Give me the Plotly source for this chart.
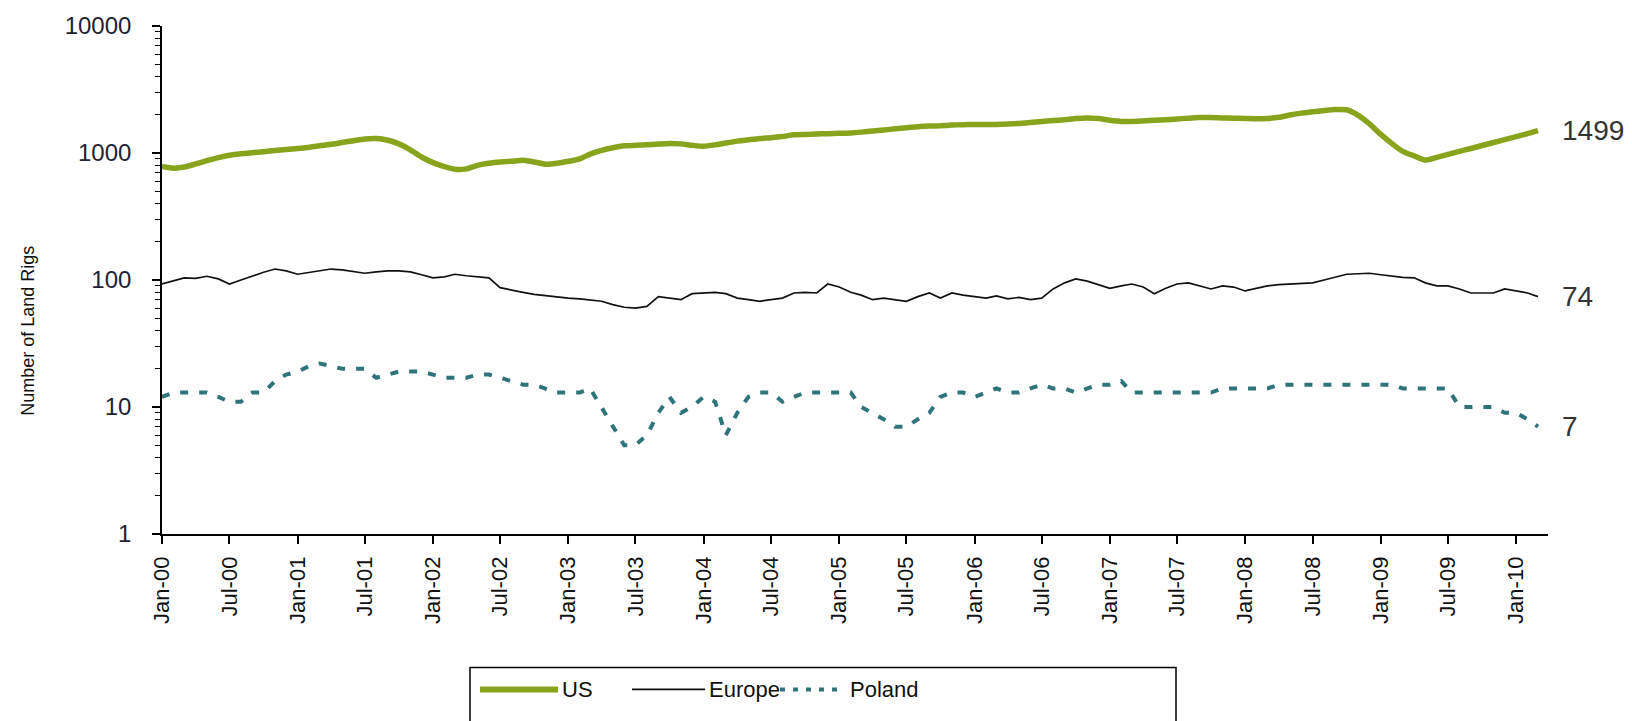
import math
import pandas as pd
import plotly.graph_objects as go

# Monthly land rig counts, Jan-2000 .. Mar-2010
months = pd.date_range("2000-01-01", "2010-03-01", freq="MS")

us_rigs = [
    784, 760, 775, 820, 870, 920, 960, 985, 1005, 1025, 1045, 1065,      # 2000
    1085, 1110, 1140, 1170, 1210, 1250, 1290, 1300, 1260, 1180, 1060, 930,  # 2001
    840, 780, 745, 750, 800, 830, 850, 860, 875, 850, 815, 830,          # 2002
    860, 900, 980, 1050, 1100, 1140, 1150, 1160, 1175, 1190, 1180, 1150,  # 2003
    1130, 1160, 1200, 1240, 1270, 1300, 1320, 1350, 1390, 1400, 1410, 1420,  # 2004
    1430, 1440, 1460, 1490, 1520, 1550, 1580, 1610, 1630, 1640, 1660, 1670,  # 2005
    1680, 1680, 1680, 1690, 1710, 1740, 1770, 1800, 1830, 1870, 1890, 1870,  # 2006
    1810, 1770, 1770, 1790, 1810, 1830, 1850, 1880, 1900, 1900, 1890, 1880,  # 2007
    1870, 1860, 1870, 1910, 1990, 2060, 2110, 2160, 2200, 2190, 1980, 1700,  # 2008
    1400, 1180, 1030, 950, 880, 925, 975, 1030, 1085, 1145, 1210, 1275,   # 2009
    1345, 1420, 1499,                                                    # 2010
]

europe_rigs = [
    93, 98, 104, 103, 107, 102, 93, 100, 108, 115, 122, 118,
    111, 115, 118, 122, 120, 117, 113, 116, 118, 118, 116, 110,
    104, 106, 111, 108, 106, 104, 87, 84, 80, 77, 75, 74,
    72, 71, 70, 68, 64, 61, 60, 62, 74, 72, 70, 78,
    79, 80, 78, 72, 70, 68, 70, 72, 79, 80, 79, 93,
    88, 80, 76, 70, 72, 70, 68, 74, 79, 72, 79, 76,
    74, 72, 75, 71, 73, 70, 72, 85, 95, 102, 98, 92,
    86, 90, 93, 88, 78, 86, 93, 95, 90, 85, 90, 88,
    82, 86, 90, 92, 93, 93, 95, 100, 106, 111, 112, 113,
    110, 107, 105, 104, 95, 90, 90, 85, 79, 79, 79, 85,
    82, 79, 74,
]

poland_rigs = [
    12, 13, 13, 13, 13, 12, 11, 11, 13, 13, 16, 18,
    19, 21, 22, 21, 20, 20, 20, 17, 18, 19, 19, 19,
    18, 17, 17, 17, 18, 18, 17, 16, 15, 15, 14, 13,
    13, 13, 14, 10, 7, 5, 5, 6, 9, 12, 9, 10,
    12, 11, 6, 9, 12, 13, 13, 11, 12, 13, 13, 13,
    13, 13, 10, 9, 8, 7, 7, 8, 9, 12, 13, 13,
    12, 13, 14, 13, 13, 14, 15, 14, 14, 13, 14, 15,
    15, 16, 13, 13, 13, 13, 13, 13, 13, 13, 14, 14,
    14, 14, 14, 15, 15, 15, 15, 15, 15, 15, 15, 15,
    15, 15, 14, 14, 14, 14, 14, 10, 10, 10, 10, 9,
    9, 8, 7,
]

series_names = ["US", "Europe", "Poland"]
y_tick_values = [1, 10, 100, 1000, 10000]
y_tick_labels = ["1", "10", "100", "1000", "10000"]

US_GREEN = "#88A31C"
EU_BLACK = "#111111"
PL_TEAL = "#2F7479"
FONT = "Liberation Sans, Arial, sans-serif"

fig = go.Figure()
fig.add_trace(go.Scatter(x=months, y=us_rigs, name=series_names[0], mode="lines",
                         line=dict(color=US_GREEN, width=5.5, shape="spline", smoothing=0.6)))
fig.add_trace(go.Scatter(x=months, y=europe_rigs, name=series_names[1], mode="lines",
                         line=dict(color=EU_BLACK, width=1.7)))
fig.add_trace(go.Scatter(x=months, y=poland_rigs, name=series_names[2], mode="lines",
                         line=dict(color=PL_TEAL, width=4, dash="8px,11px")))

# Plot-area geometry in pixels, used to place the hand-drawn legend
W, H = 1632, 721
L, R, T, B = 162, 84, 24, 187
PW, PH = W - L - R, H - T - B


def px(xpix):
    return (xpix - L) / PW


def py(ypix):
    return (H - B - ypix) / PH


annotations = []
# Last-value labels at the end of each line
for vals in (us_rigs, europe_rigs, poland_rigs):
    annotations.append(dict(x=months[-1], y=math.log10(vals[-1]), xref="x", yref="y",
                            text=str(vals[-1]), showarrow=False, xanchor="left",
                            xshift=22, font=dict(family=FONT, size=28, color="#333333")))

# Y axis title
annotations.append(dict(x=px(28), y=py(330), xref="paper", yref="paper",
                        xanchor="center", yanchor="middle",
                        text="Number of Land Rigs", textangle=-90, showarrow=False,
                        font=dict(family=FONT, size=18, color="#111111")))

# Legend box below the chart
shapes = [dict(type="rect", xref="paper", yref="paper",
               x0=px(470), x1=px(1176), y0=py(668), y1=py(760),
               line=dict(color="black", width=1.5), fillcolor="white", layer="below")]
legend_rows = [
    (series_names[0], 480, 558, 560, dict(color=US_GREEN, width=6)),
    (series_names[1], 632, 705, 707, dict(color=EU_BLACK, width=1.6)),
    (series_names[2], 780, 840, 848, dict(color=PL_TEAL, width=4, dash="5px,8px")),
]
for name, x0, x1, xt, ln in legend_rows:
    shapes.append(dict(type="line", xref="paper", yref="paper",
                       x0=px(x0), x1=px(x1), y0=py(690), y1=py(690), line=ln))
    annotations.append(dict(x=px(xt), y=py(690), xref="paper", yref="paper", text=name,
                            showarrow=False, xanchor="left", yanchor="middle",
                            font=dict(family=FONT, size=22, color="#111111")))

fig.update_layout(
    width=W, height=H, autosize=False,
    margin=dict(l=L, r=R, t=T, b=B),
    paper_bgcolor="white", plot_bgcolor="white",
    showlegend=False,
    font=dict(family=FONT, color="#111111"),
    annotations=annotations,
    shapes=shapes,
)

fig.update_xaxes(
    type="date", range=["2000-01-01", "2010-03-28"],
    tick0="2000-01-01", dtick="M6", tickformat="%b-%y", tickangle=-90,
    ticks="outside", ticklen=8, tickwidth=1.5, tickcolor="black",
    showline=True, linecolor="black", linewidth=1.6, showgrid=False, zeroline=False,
    ticklabelstandoff=4,
    tickfont=dict(family=FONT, size=22, color="#111111"),
)
fig.update_yaxes(
    type="log", range=[0, 4], tickmode="array",
    tickvals=y_tick_values, ticktext=y_tick_labels,
    ticks="outside", ticklen=8, tickwidth=1.5, tickcolor="black",
    minor=dict(ticks="outside", ticklen=5, tickwidth=1.2, tickcolor="black", dtick="D1", showgrid=False),
    showline=True, linecolor="black", linewidth=1.6, showgrid=False, zeroline=False,
    ticklabelstandoff=16,
    tickfont=dict(family=FONT, size=24, color="#222233"),
)

fig.write_html("out.html")
